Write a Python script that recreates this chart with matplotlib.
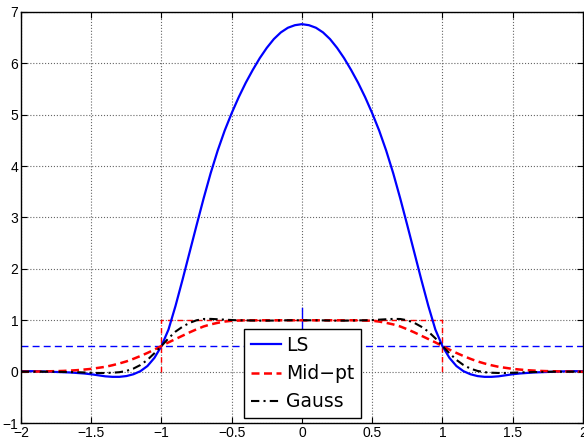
import numpy as np
import matplotlib
matplotlib.use("Agg")
import matplotlib.pyplot as plt

plt.rcParams['font.family'] = ['Liberation Sans', 'DejaVu Sans']

# sample grid, step 0.05 from -2 to 2
x = np.round(np.arange(-40, 41) * 0.05, 2)

ls = [0.01, 0.01, 0.01, 0.005, 0.0, -0.005, -0.01, -0.015, -0.025, -0.035,
      -0.05, -0.07, -0.09, -0.10, -0.10, -0.085, -0.05, 0.01, 0.11, 0.27,
      0.50, 0.82, 1.28, 1.79, 2.32, 2.85, 3.37, 3.86, 4.30, 4.69,
      5.03, 5.34, 5.62, 5.87, 6.10, 6.30, 6.47, 6.60, 6.69, 6.74,
      6.76,
      6.74, 6.69, 6.60, 6.47, 6.30, 6.10, 5.87, 5.62, 5.34, 5.03,
      4.69, 4.30, 3.86, 3.37, 2.85, 2.32, 1.79, 1.28, 0.82, 0.50,
      0.27, 0.11, 0.01, -0.05, -0.085, -0.10, -0.10, -0.09, -0.07, -0.05,
      -0.035, -0.025, -0.015, -0.01, -0.005, 0.0, 0.005, 0.01, 0.01, 0.01]

mid = [0.0, 0.001, 0.003, 0.005, 0.008, 0.011, 0.015, 0.022, 0.03, 0.042,
       0.055, 0.075, 0.095, 0.125, 0.16, 0.20, 0.25, 0.305, 0.365, 0.43,
       0.5, 0.57, 0.635, 0.70, 0.765, 0.825, 0.88, 0.92, 0.95, 0.975,
       0.99, 0.995, 1.0, 1.0, 1.0, 1.0, 1.0, 1.0, 1.0, 1.0,
       1.0,
       1.0, 1.0, 1.0, 1.0, 1.0, 1.0, 1.0, 1.0, 0.995, 0.99,
       0.975, 0.95, 0.92, 0.88, 0.825, 0.765, 0.70, 0.635, 0.57, 0.5,
       0.43, 0.365, 0.305, 0.25, 0.20, 0.16, 0.125, 0.095, 0.075, 0.055,
       0.042, 0.03, 0.022, 0.015, 0.011, 0.008, 0.005, 0.003, 0.001, 0.0]

gauss = [0.0, 0.0, 0.0, 0.0, 0.0, -0.002, -0.005, -0.007, -0.01, -0.015,
         -0.02, -0.025, -0.025, -0.02, -0.01, 0.015, 0.06, 0.13, 0.23, 0.36,
         0.5, 0.65, 0.78, 0.875, 0.95, 1.0, 1.025, 1.027, 1.02, 1.012,
         1.005, 1.0, 0.998, 0.995, 0.993, 0.993, 0.995, 0.998, 1.0, 1.0,
         1.0,
         1.0, 1.0, 0.998, 0.995, 0.993, 0.993, 0.995, 0.998, 1.0, 1.005,
         1.012, 1.02, 1.027, 1.025, 1.0, 0.95, 0.875, 0.78, 0.65, 0.5,
         0.36, 0.23, 0.13, 0.06, 0.015, -0.01, -0.02, -0.025, -0.025, -0.02,
         -0.015, -0.01, -0.007, -0.005, -0.002, 0.0, 0.0, 0.0, 0.0, 0.0]

box_x = [-1, -1, 1, 1]
box_y = [0, 1, 1, 0]
half_level = 0.5
marker_x = [0, 0]
marker_y = [0.5, 1.23]

fig = plt.figure(figsize=(5.84, 4.38), dpi=100)
ax = fig.add_axes([0.036, 0.034, 0.962, 0.939])

ax.plot(box_x, box_y, color='red', lw=1.0, ls=(0, (4, 3)))
ax.axhline(half_level, color='blue', lw=1.0, ls=(0, (5, 3)))
ax.plot(marker_x, marker_y, color='blue', lw=1.0)

l1, = ax.plot(x, ls, color='blue', lw=1.6, label='LS')
l2, = ax.plot(x, mid, color='red', lw=1.8, ls=(0, (3.2, 1.8)), label='Mid\u2212pt')
l3, = ax.plot(x, gauss, color='black', lw=1.5, ls=(0, (4, 2, 1, 2)), label='Gauss')

ax.set_xlim(-2, 2)
ax.set_ylim(-1, 7)
ax.set_xticks([-2, -1.5, -1, -0.5, 0, 0.5, 1, 1.5, 2])
ax.set_xticklabels(['\u22122', '\u22121.5', '\u22121', '\u22120.5', '0', '0.5', '1', '1.5', '2'])
ax.set_yticks([-1, 0, 1, 2, 3, 4, 5, 6, 7])
ax.set_yticklabels(['\u22121', '0', '1', '2', '3', '4', '5', '6', '7'])

ax.grid(True, ls=':', color='0.4', lw=0.8)
ax.tick_params(direction='in', length=4, width=0.8, top=True, right=True,
               labelsize=10, pad=2)
for s in ax.spines.values():
    s.set_linewidth(1.0)

leg = ax.legend(handles=[l1, l2, l3], loc='lower center',
                prop={'family': ['DejaVu Sans'], 'size': 13.5},
                bbox_to_anchor=(0.501, 0.0), frameon=True, fancybox=False,
                edgecolor='black', framealpha=1, handlelength=1.6,
                borderpad=0.35, labelspacing=0.5, handletextpad=0.25,
                borderaxespad=0.27)
leg.get_frame().set_linewidth(1.0)

fig.savefig('out.png', dpi=100)
